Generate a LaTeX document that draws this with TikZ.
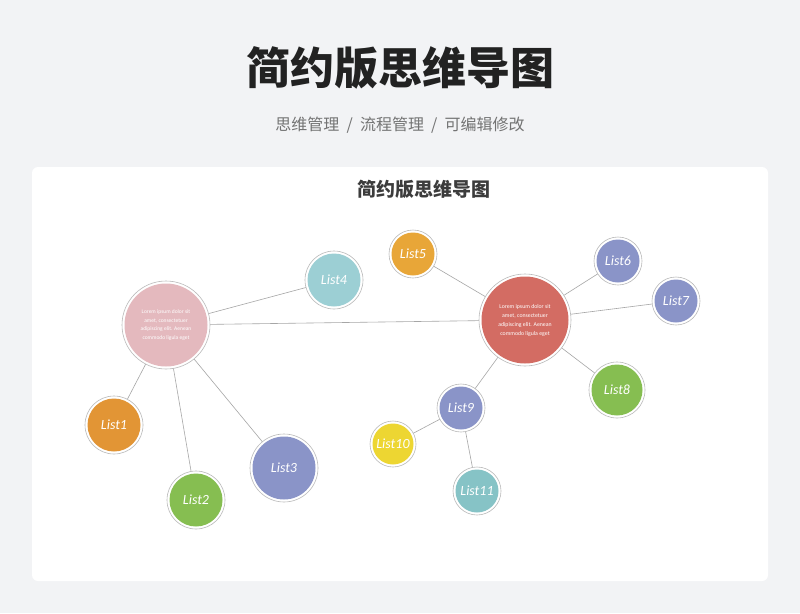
\documentclass[tikz,border=0pt]{standalone}
\usepackage{fontspec}
\setmainfont{Carlito}
\newfontfamily\cjk{Noto Sans CJK SC}
\begin{document}
\begin{tikzpicture}[x=1pt,y=-1pt,
  edge/.style={draw=gray!70,line width=0.6pt},
  lbl/.style={text=white,font=\itshape\fontsize{14}{14}\selectfont}]
\fill[fill={rgb,255:red,242;green,243;blue,245}] (0,0) rectangle (800,613);
\useasboundingbox (0,0) rectangle (800,613);
\fill[white,rounded corners=6pt] (32,167) rectangle (768,581);
\node[font=\cjk\bfseries\fontsize{44}{44}\selectfont,text={rgb,255:red,34;green,34;blue,34}] (title) at (400,68) {简约版思维导图};
\node[font=\cjk\fontsize{16}{16}\selectfont,text=gray!90!black] (sub) at (400,125) {思维管理 \ / \ 流程管理 \ / \ 可编辑修改};
\node[font=\cjk\bfseries\fontsize{19}{19}\selectfont,text={rgb,255:red,60;green,60;blue,60}] (t2) at (424,189) {简约版思维导图};
\newcommand{\bub}[6]{%
  \node[circle,minimum size=#3*2pt,inner sep=0pt,draw=gray!55,line width=0.6pt,fill=white,
    path picture={\fill[#4] (path picture bounding box.center) circle[radius=#3-2.5];}] (#1) at #2 {};
  \node[#6] at (#1) {#5};}
\definecolor{cpink}{RGB}{228,185,190}
\definecolor{cred}{RGB}{211,108,99}
\definecolor{cteal}{RGB}{156,207,212}
\definecolor{corange}{RGB}{232,166,56}
\definecolor{cblue}{RGB}{138,148,200}
\definecolor{cgreen}{RGB}{134,190,81}
\definecolor{cyellow}{RGB}{237,214,50}
\definecolor{cteal2}{RGB}{134,195,198}
\definecolor{corange2}{RGB}{226,149,53}
% edges first
\coordinate (L) at (166,325); \coordinate (R) at (525,320);
\path (334,280) coordinate (c4) (413,254) coordinate (c5) (618,261) coordinate (c6)
 (676,301) coordinate (c7) (617,390) coordinate (c8) (461,408) coordinate (c9)
 (393,444) coordinate (c10) (477,491) coordinate (c11) (114,425) coordinate (c1)
 (196,500) coordinate (c2) (284,468) coordinate (c3);
\foreach \a/\b in {L/c4,L/R,L/c1,L/c2,L/c3,R/c5,R/c6,R/c7,R/c8,R/c9,c9/c10,c9/c11}
  \draw[edge] (\a) -- (\b);
\bub{main1}{(L)}{44}{cpink}{\parbox{58pt}{\centering Lorem ipsum dolor sit amet, consectetuer adipiscing elit. Aenean commodo ligula eget}}{text=white,font=\fontsize{5.5}{8.5}\selectfont}
\bub{main2}{(R)}{46}{cred}{\parbox{62pt}{\centering Lorem ipsum dolor sit amet, consectetuer adipiscing elit. Aenean commodo ligula eget}}{text=white,font=\fontsize{5.8}{9}\selectfont}
\bub{n4}{(c4)}{29}{cteal}{List4}{lbl}
\bub{n5}{(c5)}{24}{corange}{List5}{lbl}
\bub{n6}{(c6)}{24}{cblue}{List6}{lbl}
\bub{n7}{(c7)}{24}{cblue}{List7}{lbl}
\bub{n8}{(c8)}{28}{cgreen}{List8}{lbl}
\bub{n9}{(c9)}{24}{cblue}{List9}{lbl}
\bub{n10}{(c10)}{23}{cyellow}{List10}{lbl}
\bub{n11}{(c11)}{24}{cteal2}{List11}{lbl}
\bub{n1}{(c1)}{29}{corange2}{List1}{lbl}
\bub{n2}{(c2)}{29}{cgreen}{List2}{lbl}
\bub{n3}{(c3)}{34}{cblue}{List3}{lbl}
\end{tikzpicture}
\end{document}
